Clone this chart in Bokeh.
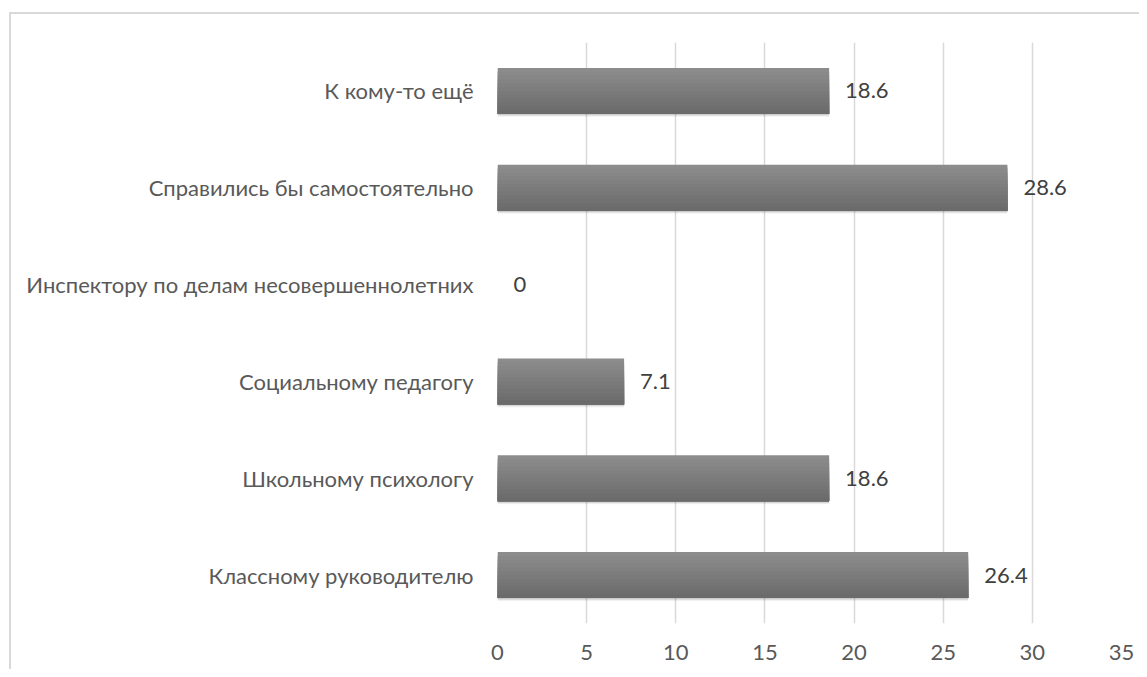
from bokeh.plotting import figure
from bokeh.models import FactorRange, Range1d, FixedTicker, ColumnDataSource
from bokeh.transform import dodge
from bokeh.core.properties import value
from bokeh.embed import file_html
from bokeh.resources import INLINE

categories = [
    "Классному руководителю",
    "Школьному психологу",
    "Социальному педагогу",
    "Инспектору по делам несовершеннолетних",
    "Справились бы самостоятельно",
    "К кому-то ещё",
]
values = [26.4, 18.6, 7.1, 0, 28.6, 18.6]
value_labels = ["26.4", "18.6", "7.1", "0", "28.6", "18.6"]
x_ticks = [0, 5, 10, 15, 20, 25, 30, 35]

FONT = "Lato"
TEXT = "#595959"

src = ColumnDataSource(dict(cat=categories, val=values, lab=value_labels))

p = figure(
    width=1139, height=669,
    y_range=FactorRange(factors=categories),
    x_range=Range1d(0, 35),
    output_backend="svg", toolbar_location=None,
    min_border_left=497, min_border_right=18,
    min_border_top=42, min_border_bottom=46,
)
p.border_fill_color = None
p.background_fill_color = None
p.outline_line_color = None
p.styles = {"box-shadow": "inset 9px 12px 0 0 #ffffff, inset 11px 14px 0 0 #d9d9d9"}

H = 0.475
# soft shadow below bars
for k, a in [(0.012, 0.10), (0.022, 0.07), (0.032, 0.04)]:
    p.hbar(y=dodge("cat", -k, range=p.y_range), left=0, right="val", height=H,
           source=src, fill_color="black", fill_alpha=a, line_color=None)

# gradient bars
n = 12
c_top = (0x8c, 0x8c, 0x8c)
c_bot = (0x6b, 0x6b, 0x6b)
for i in range(n):
    t = i / (n - 1)
    col = "#%02x%02x%02x" % tuple(int(round(c_top[j] + (c_bot[j] - c_top[j]) * t)) for j in range(3))
    top = H / 2 - i * H / n
    bot = -H / 2
    p.hbar(y=dodge("cat", (top + bot) / 2, range=p.y_range), left=0, right="val",
           height=top - bot, source=src, fill_color=col, line_color=None)

p.text(x="val", y="cat", text="lab", source=src, x_offset=16,
       text_baseline="middle", text_align="left",
       text_font=value(FONT), text_font_size="22px", text_color="#404040")

p.xgrid.grid_line_color = "#d9d9d9"
p.xgrid.grid_line_width = 1.5
p.ygrid.grid_line_color = None
p.xaxis.ticker = FixedTicker(ticks=x_ticks)

for ax in (p.xaxis, p.yaxis):
    ax.axis_line_color = None
    ax.major_tick_line_color = None
    ax.minor_tick_line_color = None
    ax.major_tick_out = 0
    ax.major_tick_in = 0
    ax.major_label_text_font = FONT
    ax.major_label_text_font_size = "22px"
    ax.major_label_text_color = TEXT
p.xaxis.major_label_standoff = 21
p.yaxis.major_label_standoff = 24

open("out.html", "w").write(file_html(p, INLINE))
